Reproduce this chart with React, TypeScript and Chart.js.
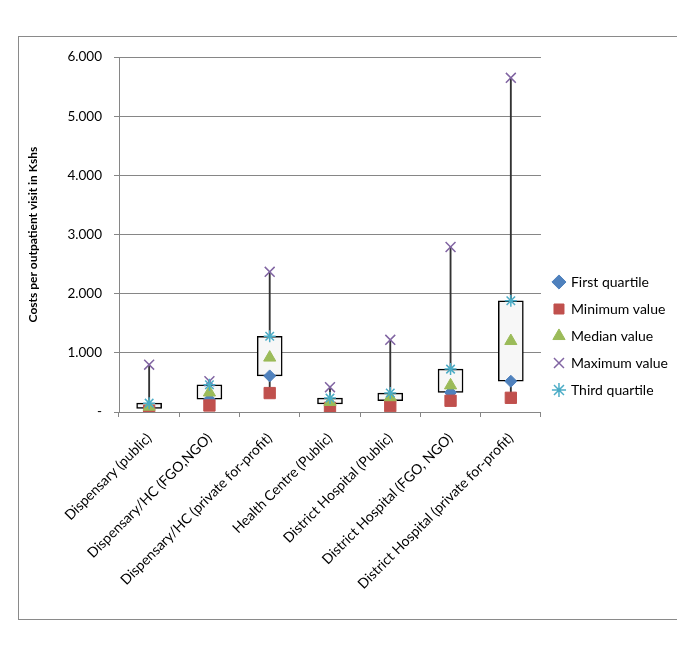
import React, { useEffect, useRef } from 'react';
import { Chart, registerables } from 'chart.js';

Chart.register(...registerables);

const categories = [
  'Dispensary (public)',
  'Dispensary/HC (FGO,NGO)',
  'Dispensary/HC (private for-profit)',
  'Health Centre (Public)',
  'District Hospital (Public)',
  'District Hospital (FGO, NGO)',
  'District Hospital (private for-profit)',
];

const firstQuartile = [60, 215, 610, 135, 190, 330, 520];
const minimumValue = [20, 110, 320, 70, 100, 190, 240];
const medianValue = [90, 330, 920, 170, 250, 450, 1200];
const maximumValue = [800, 520, 2370, 420, 1220, 2790, 5650];
const thirdQuartile = [150, 460, 1280, 235, 320, 725, 1880];

const yTickValues = [0, 1000, 2000, 3000, 4000, 5000, 6000];
const yTickLabels = ['-', '1.000', '2.000', '3.000', '4.000', '5.000', '6.000'];

const FONT = 'Lato, "Open Sans", sans-serif';
const GRID = '#868686';

export default function App() {
  const ref = useRef<HTMLCanvasElement | null>(null);

  useEffect(() => {
    if (!ref.current) return;
    const chart = new Chart(ref.current, {
      type: 'bar',
      data: {
        labels: categories,
        datasets: [
          {
            type: 'line',
            label: 'First quartile',
            data: firstQuartile,
            showLine: false,
            pointStyle: 'rectRot',
            pointRadius: 6,
            pointBorderWidth: 1,
            backgroundColor: '#4F81BD',
            borderColor: '#4F81BD',
            order: 5,
          },
          {
            type: 'line',
            label: 'Minimum value',
            data: minimumValue,
            showLine: false,
            pointStyle: 'rect',
            pointRadius: 8,
            pointBorderWidth: 1,
            backgroundColor: '#C0504D',
            borderColor: '#C0504D',
            order: 4,
          },
          {
            type: 'line',
            label: 'Median value',
            data: medianValue,
            showLine: false,
            pointStyle: 'triangle',
            pointRadius: 7,
            pointBorderWidth: 1,
            backgroundColor: '#9BBB59',
            borderColor: '#9BBB59',
            order: 3,
          },
          {
            type: 'line',
            label: 'Maximum value',
            data: maximumValue,
            showLine: false,
            pointStyle: 'crossRot',
            pointRadius: 7,
            pointBorderWidth: 1.5,
            backgroundColor: '#8064A2',
            borderColor: '#8064A2',
            order: 2,
          },
          {
            type: 'line',
            label: 'Third quartile',
            data: thirdQuartile,
            showLine: false,
            pointStyle: 'star',
            pointRadius: 6,
            pointBorderWidth: 1.5,
            backgroundColor: '#4BACC6',
            borderColor: '#4BACC6',
            order: 1,
          },
          {
            type: 'bar',
            label: 'box',
            data: firstQuartile.map((q1, i) => [q1, thirdQuartile[i]]),
            backgroundColor: '#F7F7F7',
            borderColor: '#000000',
            borderWidth: 1.5,
            borderSkipped: false,
            barThickness: 25,
            grouped: false,
            order: 10,
          },
          {
            type: 'bar',
            label: 'whisker',
            data: minimumValue.map((mn, i) => [mn, maximumValue[i]]),
            backgroundColor: '#333333',
            borderWidth: 0,
            barThickness: 1.2,
            grouped: false,
            order: 11,
          },
        ] as any,
      },
      options: {
        responsive: false,
        animation: false,
        layout: { padding: { top: 16, right: 1, bottom: 0, left: 0 } },
        plugins: {
          tooltip: { enabled: false },
          legend: {
            position: 'right',
            align: 'center',
            labels: {
              usePointStyle: true,
              boxWidth: 10,
              boxHeight: 10,
              padding: 13,
              color: '#000',
              font: { family: FONT, size: 14 },
              filter: (item: any) => item.datasetIndex < 5,
              sort: (a: any, b: any) => a.datasetIndex - b.datasetIndex,
            },
          },
        },
        scales: {
          x: {
            grid: {
              offset: true,
              drawOnChartArea: false,
              drawTicks: true,
              tickLength: 5,
              color: GRID,
            },
            border: { color: GRID },
            ticks: {
              font: { family: FONT, size: 14 },
              color: '#000',
              minRotation: 45,
              maxRotation: 45,
              autoSkip: false,
              padding: 13,
            },
            afterFit: (s: any) => {
              s.height = 207;
            },
          },
          y: {
            min: 0,
            max: 6000,
            afterBuildTicks: (s: any) => {
              s.ticks = yTickValues.map((v) => ({ value: v }));
            },
            ticks: {
              callback: (_v: any, i: number) => yTickLabels[i],
              font: { family: FONT, size: 13.5 },
              color: '#000',
              padding: 12,
            },
            grid: { color: GRID, tickLength: 5 },
            border: { color: GRID },
            title: {
              display: true,
              text: 'Costs per outpatient visit in Kshs',
              font: { family: FONT, size: 12, weight: 'bold' },
              color: '#000',
              padding: { top: 7, bottom: 0 },
            },
            afterFit: (s: any) => {
              s.width = 100;
            },
          },
        },
      } as any,
    });
    return () => chart.destroy();
  }, []);

  return (
    <div style={{ paddingTop: 28, paddingLeft: 10 }}>
      <div
        style={{
          width: 662,
          height: 584,
          border: '1px solid #8a8a8a',
          boxSizing: 'border-box',
          background: '#fff',
        }}
      >
        <canvas ref={ref} width={660} height={582} style={{ display: 'block' }} />
      </div>
    </div>
  );
}
